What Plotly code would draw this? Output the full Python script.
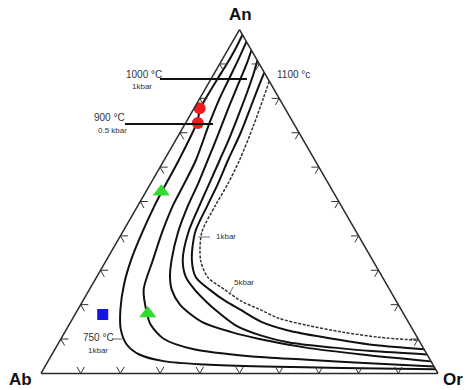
import plotly.graph_objects as go

# ---- isotherm curves (An %, Or %); Ab = 100 - An - Or ----
c750_an = [98.5, 94, 90, 85, 80, 77, 73, 62, 52.8, 49, 41, 33, 25.8, 18.6, 12.8, 8.4, 5.5, 3.5, 2.6, 2.0, 1.6, 1.2]
c750_or = [1.5, 1.8, 1.8, 1.6, 1.5, 1.6, 2.8, 3.7, 4.0, 4.2, 5.0, 6.2, 8.0, 10.7, 13.7, 17.4, 22.0, 29.5, 40, 55, 75, 98.8]

c800_an = [96.5, 92, 86, 80, 73, 62, 55, 49, 41, 33, 24.3, 17.4, 14.2, 10, 7, 5, 4, 3, 2]
c800_or = [3.5, 4, 4.5, 5, 6.0, 8.0, 8.5, 8.8, 10, 11.7, 13.7, 18, 20.5, 26, 35, 50, 65, 80, 98]

c900_an = [94, 90, 85, 78, 70, 62, 55, 49, 41, 33, 28, 24.3, 20, 15, 12, 10, 7.5, 5.5, 3.5]
c900_or = [6, 6.8, 7.5, 8.5, 9.8, 11.0, 12.0, 12.6, 14, 16.4, 18.5, 20.8, 25, 33, 42, 50, 63, 78, 96.5]

c1000_an = [91, 87, 82, 75, 68, 62, 55, 49, 41, 33, 28, 24.3, 21, 18.6, 14, 11, 9, 7.5, 6.5, 5.5]
c1000_or = [9, 10, 11, 12.2, 13.3, 14.0, 14.8, 15.5, 16.6, 19.2, 22.5, 26.6, 31, 34.5, 42, 50, 58, 70, 80, 94.5]

c1100_an = [87.5, 84, 78, 70, 62, 55, 49, 41, 33, 28, 24.3, 21, 18.6, 15, 12.5, 10.5, 8.5, 7.0]
c1100_or = [12.5, 13, 14, 15.3, 16.1, 17, 17.5, 18.3, 21.5, 25, 30.4, 36, 40.8, 48, 56, 66, 78, 93]

c1100_5kb_an = [85, 80, 72, 62, 55, 49, 41, 33, 28, 24.3, 21, 18.6, 16, 14, 12, 10.5, 9.6]
c1100_5kb_or = [15, 16, 17.5, 19, 19.5, 19.5, 20, 23.7, 28, 34.2, 40, 45.8, 52, 60, 70, 80, 90.4]

# ---- sample points (An, Or) ----
red_an = [77.1, 72.8]
red_or = [1.4, 3.1]
green_an = [52.8, 17.4]
green_or = [3.9, 18.2]
blue_an = [17.1]
blue_or = [7.0]

# ---- edge tick positions (%) ----
tick_vals = [10, 20, 30, 40, 50, 60, 70, 80, 90]
tick_len = 1.9

LINE = "#111111"
FONT = "Liberation Sans, Arial, sans-serif"


def ab(an, orr):
    return [100 - a - o for a, o in zip(an, orr)]


fig = go.Figure()

curves = [
    (c750_an, c750_or),
    (c800_an, c800_or),
    (c900_an, c900_or),
    (c1000_an, c1000_or),
    (c1100_an, c1100_or),
]
for an, orr in curves:
    fig.add_trace(go.Scatterternary(
        a=an, b=ab(an, orr), c=orr, mode="lines",
        line=dict(color=LINE, width=2, shape="spline", smoothing=0.8),
        hoverinfo="skip", showlegend=False))

fig.add_trace(go.Scatterternary(
    a=c1100_5kb_an, b=ab(c1100_5kb_an, c1100_5kb_or), c=c1100_5kb_or, mode="lines",
    line=dict(color="#333333", width=1.5, dash="3px,1.5px", shape="spline", smoothing=0.8),
    hoverinfo="skip", showlegend=False))

# chevron ticks along the three edges
ta, tb, tc = [], [], []
d = tick_len
for t in tick_vals:
    # bottom edge (An = 0), t = Or
    ta += [d, 0, d, None]
    tb += [100 - t - d, 100 - t, 100 - t, None]
    tc += [t, t, t - d, None]
    # left edge (Or = 0), t = An
    ta += [t, t, t - d, None]
    tb += [100 - t - d, 100 - t, 100 - t, None]
    tc += [d, 0, d, None]
    # right edge (Ab = 0), t = An
    ta += [t, t, t - d, None]
    tb += [d, 0, d, None]
    tc += [100 - t - d, 100 - t, 100 - t, None]
fig.add_trace(go.Scatterternary(
    a=ta, b=tb, c=tc, mode="lines", connectgaps=False,
    line=dict(color="#333333", width=1), hoverinfo="skip", showlegend=False))

fig.add_trace(go.Scatterternary(
    a=red_an, b=ab(red_an, red_or), c=red_or, mode="markers",
    marker=dict(symbol="circle", size=12, color="#ee1c1c"),
    hoverinfo="skip", showlegend=False))
fig.add_trace(go.Scatterternary(
    a=green_an, b=ab(green_an, green_or), c=green_or, mode="markers",
    marker=dict(symbol="triangle-up", size=15, color="#2fdc2f"),
    hoverinfo="skip", showlegend=False))
fig.add_trace(go.Scatterternary(
    a=blue_an, b=ab(blue_an, blue_or), c=blue_or, mode="markers",
    marker=dict(symbol="square", size=11, color="#1414e6"),
    hoverinfo="skip", showlegend=False))

axis = dict(title=dict(text=""), showticklabels=False, ticks="", showgrid=False,
            linecolor="#2a2a2a", linewidth=1.5, min=0)

W, H = 466, 390
L, T = 41, 29
PW, PH = 397, 345
R, B = W - L - PW, H - T - PH


def px(x):
    return (x - L) / PW


def py(y):
    return (T + PH - y) / PH


ann = []


def label(x, y, text, size, anchor="left", bold=False, color="#333333"):
    ann.append(dict(x=px(x), y=py(y), xref="paper", yref="paper", text=f"<b>{text}</b>" if bold else text,
                    showarrow=False, xanchor=anchor, yanchor="middle",
                    font=dict(family=FONT, size=size, color=color)))


label(240, 14, "An", 17, "center", True, "#111111")
label(20, 380, "Ab", 17, "center", True, "#111111")
label(441, 380, "Or", 17, "left", True, "#111111")
label(124, 74, "1000 °C", 10)
label(130, 86, "1kbar", 8)
label(92, 117, "900 °C", 10)
label(96, 130, "0.5 kbar", 8)
label(81, 337, "750 °C", 10)
label(86, 350, "1kbar", 8)
label(275, 74, "1100 °c", 10)
label(214, 237, "1kbar", 8)
label(232, 282, "5kbar", 8)

shapes = []


def seg(x0, y0, x1, y1, w, color="#111111"):
    shapes.append(dict(type="line", xref="paper", yref="paper",
                       x0=px(x0), y0=py(y0), x1=px(x1), y1=py(y1),
                       line=dict(color=color, width=w)))


seg(160, 79, 247, 79, 2)
seg(125, 124, 213, 124, 2)
seg(112, 339, 122, 339, 1, "#666666")
seg(198, 237, 210, 237, 1, "#777777")
seg(233, 287, 229, 295, 1, "#777777")

fig.update_layout(
    width=W, height=H,
    margin=dict(l=L, r=R, t=T, b=B),
    paper_bgcolor="white",
    ternary=dict(sum=100, bgcolor="white", aaxis=axis, baxis=axis, caxis=axis),
    annotations=ann, shapes=shapes,
    showlegend=False,
)

fig.write_html("out.html", config={"displayModeBar": False},
               post_script="document.body.style.margin='0';")
